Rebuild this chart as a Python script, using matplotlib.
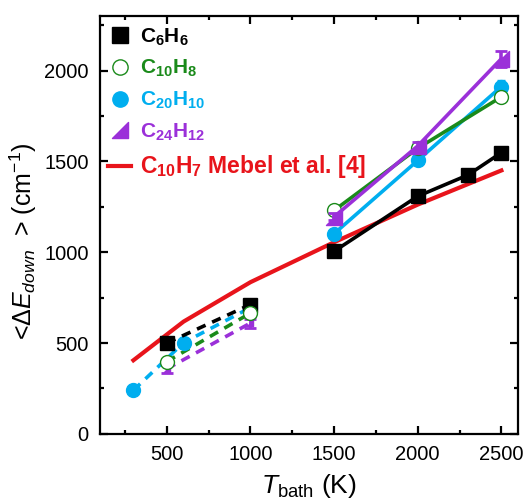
import matplotlib
matplotlib.use("Agg")
import matplotlib.pyplot as plt
from matplotlib.lines import Line2D
from matplotlib.path import Path
from matplotlib.ticker import MultipleLocator

plt.rcParams['font.family'] = ['Liberation Sans', 'DejaVu Sans']
plt.rcParams['mathtext.fontset'] = 'custom'
plt.rcParams['mathtext.rm'] = 'Liberation Sans'
plt.rcParams['mathtext.it'] = 'Liberation Sans:italic'
plt.rcParams['mathtext.bf'] = 'Liberation Sans:bold'

# ---- data ----
T_c6h6_low = [500, 1000]
E_c6h6_low = [500, 712]
T_c6h6_high = [1500, 2000, 2300, 2500]
E_c6h6_high = [1005, 1308, 1425, 1548]
err_c6h6_high = [15, 20, 20, 25]

T_c10h8_low = [500, 1000]
E_c10h8_low = [398, 665]
T_c10h8_high = [1500, 2000, 2500]
E_c10h8_high = [1230, 1572, 1855]

T_c20h10_low = [300, 600, 1000]
E_c20h10_low = [240, 502, 695]
T_c20h10_high = [1500, 2000, 2500]
E_c20h10_high = [1102, 1505, 1912]
err_c20h10_high = [15, 20, 35]

T_c24h12_low = [500, 1000]
E_c24h12_low = [358, 610]
err_c24h12_low = [22, 25]
T_c24h12_high = [1500, 2000, 2500]
E_c24h12_high = [1195, 1585, 2065]
err_c24h12_high = [20, 20, 45]

T_mebel = [300, 600, 1000, 1500, 2000, 2500]
E_mebel = [405, 618, 835, 1055, 1262, 1450]

labels = [r'$\mathbf{C_6H_6}$', r'$\mathbf{C_{10}H_8}$', r'$\mathbf{C_{20}H_{10}}$',
          r'$\mathbf{C_{24}H_{12}}$', r'$\mathbf{C_{10}H_7}$ Mebel et al. [4]']

c_black = 'black'
c_green = '#1a8a1a'
c_cyan = '#00aeef'
c_purple = '#9b30d9'
c_red = '#e8141b'

tri = Path([(-1, -1), (1, -1), (1, 1), (-1, -1)],
           [Path.MOVETO, Path.LINETO, Path.LINETO, Path.CLOSEPOLY])

fig = plt.figure(figsize=(5.26, 5.01), dpi=100)
ax = fig.add_axes([0.19, 0.134, 0.795, 0.834])

dash = (0, (2.6, 2.0))
lw = 2.6

# red line (bottom)
ax.plot(T_mebel, E_mebel, color=c_red, lw=3.0, zorder=1)

# low T dashed
ax.plot(T_c24h12_low, E_c24h12_low, ls=dash, color=c_purple, lw=lw, zorder=2)
ax.errorbar(T_c24h12_low, E_c24h12_low, yerr=err_c24h12_low, fmt='none',
            ecolor=c_purple, elinewidth=2, capsize=4, capthick=2, zorder=2)
ax.plot(T_c24h12_low, E_c24h12_low, ls='none', marker=tri, ms=5, color=c_purple, zorder=2)
ax.plot(T_c10h8_low, E_c10h8_low, ls=dash, color=c_green, lw=lw, zorder=3)
ax.plot(T_c20h10_low, E_c20h10_low, ls=dash, color=c_cyan, lw=lw, marker='o', ms=10,
        zorder=3)
ax.plot(T_c6h6_low, E_c6h6_low, ls=dash, color=c_black, lw=lw, zorder=3)
ax.plot(T_c10h8_low, E_c10h8_low, ls='none', marker='o', ms=10, mfc='white',
        mec=c_green, mew=1, zorder=5)
ax.plot(T_c6h6_low, E_c6h6_low, ls='none', marker='s', ms=10, color=c_black, zorder=4)

# high T solid
ax.errorbar(T_c6h6_high, E_c6h6_high, yerr=err_c6h6_high, color=c_black, lw=lw,
            marker='s', ms=10, capsize=3, zorder=2)
ax.errorbar(T_c20h10_high, E_c20h10_high, yerr=err_c20h10_high, color=c_cyan, lw=lw,
            marker='o', ms=10, capsize=3, zorder=3)
ax.plot(T_c10h8_high, E_c10h8_high, color=c_green, lw=lw, marker='o', ms=10,
        mfc='white', mec=c_green, mew=1, zorder=4)
ax.errorbar(T_c24h12_high, E_c24h12_high, yerr=err_c24h12_high, color=c_purple, lw=lw,
            marker=tri, ms=11, capsize=4, capthick=2, zorder=5)

ax.set_xlim(100, 2600)
ax.set_ylim(0, 2300)
ax.xaxis.set_major_locator(MultipleLocator(500))
ax.xaxis.set_minor_locator(MultipleLocator(250))
ax.yaxis.set_major_locator(MultipleLocator(500))
ax.yaxis.set_minor_locator(MultipleLocator(250))
ax.set_xticks([500, 1000, 1500, 2000, 2500])
ax.tick_params(which='both', direction='in', top=True, right=True, width=1.6)
ax.tick_params(which='major', length=6, labelsize=14.5)
ax.tick_params(axis='y', which='major', pad=8)
ax.tick_params(axis='x', which='major', pad=8)
ax.tick_params(which='minor', length=3)
for s in ax.spines.values():
    s.set_linewidth(1.6)

ax.set_xlabel(r'$T_{\mathrm{bath}}$ (K)', fontsize=19, labelpad=6)
ax.set_ylabel(r'<$\Delta E_{down}$  > (cm$^{-1}$)', fontsize=18)
ax.yaxis.set_label_coords(-0.145, 0.46)

handles = [
    Line2D([], [], ls='none', marker='s', ms=11, color=c_black),
    Line2D([], [], ls='none', marker='o', ms=11, mfc='white', mec=c_green, mew=1),
    Line2D([], [], ls='none', marker='o', ms=11, color=c_cyan),
    Line2D([], [], ls='none', marker=tri, ms=11, color=c_purple),
    Line2D([], [], color=c_red, lw=3),
]
colors = [c_black, c_green, c_cyan, c_purple, c_red]
leg = ax.legend(handles, labels, loc='upper left', bbox_to_anchor=(0.02, 0.975),
                frameon=False, prop={'size': 15, 'weight': 'bold'},
                handlelength=1.1, handletextpad=0.4, labelspacing=0.5,
                borderpad=0, borderaxespad=0)
for t, c in zip(leg.get_texts(), colors):
    t.set_color(c)
leg.get_texts()[4].set_fontsize(16.5)

fig.savefig('out.png', dpi=100)
